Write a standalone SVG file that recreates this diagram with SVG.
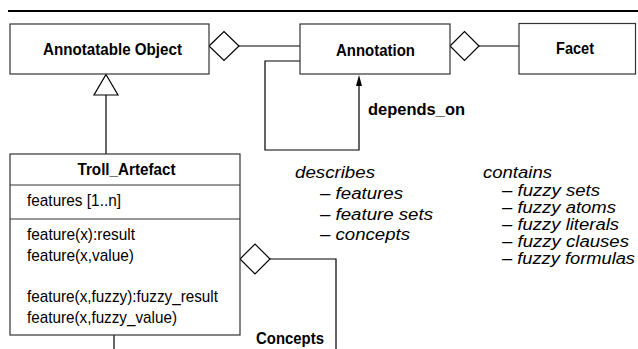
<svg xmlns="http://www.w3.org/2000/svg" width="638" height="349" viewBox="0 0 638 349">
  <style>
    .box { fill: #fff; stroke: #333; stroke-width: 1.2; }
    .line { fill: none; stroke: #000; stroke-width: 1.2; }
    .diamond { fill: #fff; stroke: #000; stroke-width: 1.2; }
    .title { font-family: "Liberation Sans", Arial, sans-serif; font-weight: bold; font-size: 17px; fill: #000; }
    .attr { font-family: "Liberation Sans", Arial, sans-serif; font-size: 17px; fill: #000; }
    .note { font-family: "Liberation Sans", Arial, sans-serif; font-style: italic; font-size: 16px; fill: #000; }
  </style>

  <!-- header rule -->
  <line x1="8" y1="11" x2="638" y2="11" stroke="#000" stroke-width="2.2"/>

  <!-- connectors -->
  <g id="connectors">
    <line class="line" x1="239" y1="46" x2="300" y2="46"/>
    <polygon class="diamond" points="209,46 224,31.5 239,46 224,60.5"/>
    <line class="line" x1="479" y1="46" x2="519" y2="46"/>
    <polygon class="diamond" points="450,46 464.5,31.5 479,46 464.5,60.5"/>
    <path class="line" d="M300,61 H265 V150 H359 V86"/>
    <path d="M356,86 L359,75 L362,86 Z" fill="#000"/>
    <line class="line" x1="106" y1="95" x2="106" y2="154"/>
    <polygon class="diamond" points="106,74.5 118,95 94,95"/>
    <path class="line" d="M270,259 H336 V349"/>
    <polygon class="diamond" points="240,259 255,244 270,259 255,274"/>
    <line class="line" x1="114" y1="335" x2="114" y2="349"/>
    <text class="title" x="368" y="114.5" textLength="97" lengthAdjust="spacingAndGlyphs">depends_on</text>
    <text class="title" x="256" y="344" textLength="68" lengthAdjust="spacingAndGlyphs">Concepts</text>
  </g>

  <g id="annotatable-object">
    <rect class="box" x="10" y="24" width="199" height="50"/>
    <text class="title" x="43" y="55" textLength="139" lengthAdjust="spacingAndGlyphs">Annotatable Object</text>
  </g>

  <g id="annotation">
    <rect class="box" x="300" y="24" width="150" height="50"/>
    <text class="title" x="336" y="55.5" textLength="79" lengthAdjust="spacingAndGlyphs">Annotation</text>
  </g>

  <g id="facet">
    <rect class="box" x="519" y="23.5" width="116.5" height="50.5"/>
    <text class="title" x="556" y="53.5" textLength="38" lengthAdjust="spacingAndGlyphs">Facet</text>
  </g>

  <g id="troll-artefact">
    <rect class="box" x="10" y="154" width="230" height="181"/>
    <line class="box" x1="10" y1="185" x2="240" y2="185"/>
    <line class="box" x1="10" y1="219" x2="240" y2="219"/>
    <text class="title" x="77.5" y="174.5" textLength="98" lengthAdjust="spacingAndGlyphs">Troll_Artefact</text>
    <text class="attr" x="27" y="206" textLength="94" lengthAdjust="spacingAndGlyphs">features [1..n]</text>
    <text class="attr" x="27" y="240" textLength="108" lengthAdjust="spacingAndGlyphs">feature(x):result</text>
    <text class="attr" x="27" y="261" textLength="107" lengthAdjust="spacingAndGlyphs">feature(x,value)</text>
    <text class="attr" x="27" y="302" textLength="191" lengthAdjust="spacingAndGlyphs">feature(x,fuzzy):fuzzy_result</text>
    <text class="attr" x="27" y="323" textLength="150" lengthAdjust="spacingAndGlyphs">feature(x,fuzzy_value)</text>
  </g>

  <g id="describes-note">
    <text class="note" x="295" y="178" textLength="80" lengthAdjust="spacingAndGlyphs">describes</text>
    <text class="note" x="320" y="199" textLength="83" lengthAdjust="spacingAndGlyphs">– features</text>
    <text class="note" x="320" y="220" textLength="113" lengthAdjust="spacingAndGlyphs">– feature sets</text>
    <text class="note" x="320" y="240" textLength="90" lengthAdjust="spacingAndGlyphs">– concepts</text>
  </g>

  <g id="contains-note">
    <text class="note" x="483" y="178" textLength="69" lengthAdjust="spacingAndGlyphs">contains</text>
    <text class="note" x="502" y="196" textLength="98" lengthAdjust="spacingAndGlyphs">– fuzzy sets</text>
    <text class="note" x="502" y="213" textLength="114" lengthAdjust="spacingAndGlyphs">– fuzzy atoms</text>
    <text class="note" x="502" y="230" textLength="117" lengthAdjust="spacingAndGlyphs">– fuzzy literals</text>
    <text class="note" x="502" y="247" textLength="127" lengthAdjust="spacingAndGlyphs">– fuzzy clauses</text>
    <text class="note" x="502" y="264" textLength="133" lengthAdjust="spacingAndGlyphs">– fuzzy formulas</text>
  </g>
</svg>
